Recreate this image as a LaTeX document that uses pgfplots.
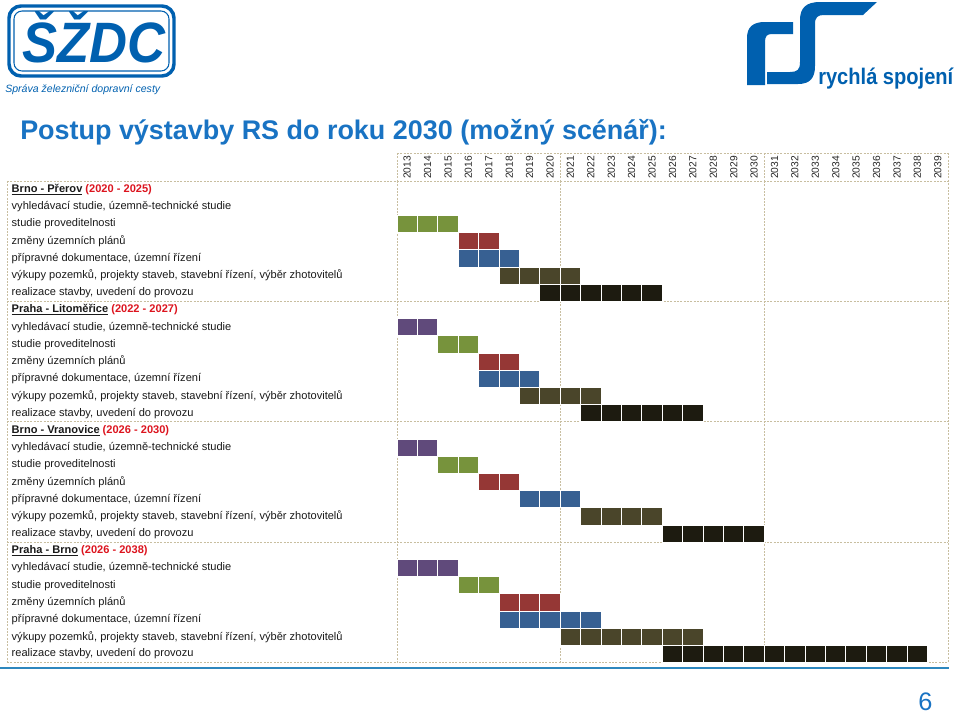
\documentclass[border=0pt]{standalone}
\usepackage{pgfplots}
\pgfplotsset{compat=1.18}
\usepackage{fontspec}
\setmainfont{Liberation Sans}
\definecolor{cpurple}{RGB}{96,74,123}
\definecolor{cgreen}{RGB}{119,147,60}
\definecolor{cred}{RGB}{149,55,53}
\definecolor{cblue}{RGB}{55,96,146}
\definecolor{colive}{RGB}{74,69,42}
\definecolor{cblack}{RGB}{29,27,16}
\definecolor{gridtan}{RGB}{200,190,160}
\definecolor{titleblue}{RGB}{25,115,195}
\definecolor{logoblue}{RGB}{0,96,175}
\definecolor{hdrred}{RGB}{220,20,30}
\definecolor{linecol}{RGB}{45,135,190}
\pgfplotsset{cell/.style={only marks, mark=square*, mark size=6.45pt,
  mark options={draw=white, fill=#1, line width=0.75pt, xscale=1.186}}}
\tikzset{gridline/.style={draw=gridtan, dash pattern=on 1.5pt off 1pt, line width=0.6pt}}
\newcommand{\hdr}[2]{\textbf{\underline{#1}} \textcolor{hdrred}{\textbf{(#2)}}}
\begin{document}
\begin{tikzpicture}
\path[use as bounding box] (0,0) rectangle (720pt,-536.25pt);
\begin{axis}[
  at={(297.75pt,-135.75pt)}, anchor=north west,
  scale only axis, width=413.25pt, height=361.2pt,
  xmin=2012.5, xmax=2039.5, ymin=-0.5, ymax=27.5, y dir=reverse,
  axis line style={gridline},
  major tick length=0pt,
  xtick={2013,2014,2015,2016,2017,2018,2019,2020,2021,2022,2023,2024,2025,2026,2027,2028,2029,2030,2031,2032,2033,2034,2035,2036,2037,2038,2039},
  xticklabels={2013,2014,2015,2016,2017,2018,2019,2020,2021,2022,2023,2024,2025,2026,2027,2028,2029,2030,2031,2032,2033,2034,2035,2036,2037,2038,2039},
  xticklabel pos=upper,
  xticklabel style={rotate=90, anchor=west, inner sep=1.5pt, font=\fontsize{7.7}{9}\selectfont, text=black!85},
  ytick={0,...,27},
  yticklabels={
    {\hdr{Brno - Přerov}{2020 - 2025}},
    {vyhledávací studie, územně-technické studie},
    {studie proveditelnosti},
    {změny územních plánů},
    {přípravné dokumentace, územní řízení},
    {výkupy pozemků, projekty staveb, stavební řízení, výběr zhotovitelů},
    {realizace stavby, uvedení do provozu},
    {\hdr{Praha - Litoměřice}{2022 - 2027}},
    {vyhledávací studie, územně-technické studie},
    {studie proveditelnosti},
    {změny územních plánů},
    {přípravné dokumentace, územní řízení},
    {výkupy pozemků, projekty staveb, stavební řízení, výběr zhotovitelů},
    {realizace stavby, uvedení do provozu},
    {\hdr{Brno - Vranovice}{2026 - 2030}},
    {vyhledávací studie, územně-technické studie},
    {studie proveditelnosti},
    {změny územních plánů},
    {přípravné dokumentace, územní řízení},
    {výkupy pozemků, projekty staveb, stavební řízení, výběr zhotovitelů},
    {realizace stavby, uvedení do provozu},
    {\hdr{Praha - Brno}{2026 - 2038}},
    {vyhledávací studie, územně-technické studie},
    {studie proveditelnosti},
    {změny územních plánů},
    {přípravné dokumentace, územní řízení},
    {výkupy pozemků, projekty staveb, stavební řízení, výběr zhotovitelů},
    {realizace stavby, uvedení do provozu}},
  yticklabel style={anchor=west, xshift=-292.5pt, font=\fontsize{8.3}{9}\selectfont, text=black!90},
  extra x ticks={2020.5,2030.5}, extra x tick labels={},
  extra x tick style={grid=major, major grid style={gridline}},
  extra y ticks={6.5,13.5,20.5}, extra y tick labels={},
  extra y tick style={grid=major, major grid style={gridline}},
  clip=false,
]
% vyhledavaci studie
\addplot[cell=cpurple] table {
x y
2013 8
2014 8
2013 15
2014 15
2013 22
2014 22
2015 22
};
% studie proveditelnosti
\addplot[cell=cgreen] table {
x y
2013 2
2014 2
2015 2
2015 9
2016 9
2015 16
2016 16
2016 23
2017 23
};
% zmeny uzemnich planu
\addplot[cell=cred] table {
x y
2016 3
2017 3
2017 10
2018 10
2017 17
2018 17
2018 24
2019 24
2020 24
};
% pripravne dokumentace
\addplot[cell=cblue] table {
x y
2016 4
2017 4
2018 4
2017 11
2018 11
2019 11
2019 18
2020 18
2021 18
2018 25
2019 25
2020 25
2021 25
2022 25
};
% vykupy pozemku
\addplot[cell=colive] table {
x y
2018 5
2019 5
2020 5
2021 5
2019 12
2020 12
2021 12
2022 12
2022 19
2023 19
2024 19
2025 19
2021 26
2022 26
2023 26
2024 26
2025 26
2026 26
2027 26
};
% realizace
\addplot[cell=cblack] table {
x y
2020 6
2021 6
2022 6
2023 6
2024 6
2025 6
2022 13
2023 13
2024 13
2025 13
2026 13
2027 13
2026 20
2027 20
2028 20
2029 20
2030 20
2026 27
2027 27
2028 27
2029 27
2030 27
2031 27
2032 27
2033 27
2034 27
2035 27
2036 27
2037 27
2038 27
};
\end{axis}
\begin{scope}[x=0.75pt, y=-0.75pt]
% header box and left table frame
\draw[gridline] (397,153) -- (948,153);
\foreach \xx in {397,560.3,764.3,948} \draw[gridline] (\xx,153) -- (\xx,181);
\draw[gridline] (7,181) -- (397,181);
\draw[gridline] (7,181) -- (7,662.6);
\draw[gridline] (7,662.6) -- (397,662.6);
\foreach \yy in {301.4,421.8,542.2} \draw[gridline] (7,\yy) -- (397,\yy);
% title
\node[anchor=base west, inner sep=0, text=titleblue, font=\fontsize{20.2}{24}\selectfont\bfseries] at (20,139) {Postup výstavby RS do roku 2030 (možný scénář):};
% bottom line and page number
\draw[linecol, line width=1.5pt] (0,668) -- (949,668);
\node[anchor=base west, inner sep=0, text=titleblue, font=\fontsize{19}{22}\selectfont] at (918,710) {6};
% SZDC logo
\draw[logoblue, line width=2.6pt, rounded corners=9pt] (9,6) rectangle (174,76);
\draw[logoblue, line width=0.8pt, rounded corners=6pt] (14,11) rectangle (169,71);
\node[anchor=south west, inner sep=0, text=logoblue] at (22,63) {\resizebox{107.25pt}{38.25pt}{\bfseries\itshape ŠŽDC}};
\node[anchor=base west, inner sep=0, text=logoblue] at (5,92) {\resizebox{116.25pt}{!}{\itshape Správa železniční dopravní cesty}};
% rs logo
\fill[logoblue] (747,85) -- (747,38) .. controls (747,27) and (753,22) .. (765,22) -- (793,22) -- (793,34) -- (772,34) .. controls (767,34) and (765,36) .. (765,42) -- (765,85) -- cycle;
\fill[logoblue] (877,2) -- (820,2) .. controls (806,2) and (800,8) .. (800,20) -- (800,62) .. controls (800,70) and (797,72) .. (790,72) -- (767,72) -- (767,84) -- (798,84) .. controls (810,84) and (815,78) .. (815,66) -- (815,24) .. controls (815,17) and (818,15) .. (824,15) -- (863,15) -- cycle;
\node[anchor=base west, inner sep=0, text=logoblue] at (818,84) {\resizebox{101.25pt}{12.4pt}{\bfseries rychlá spojení}};
\end{scope}
\end{tikzpicture}
\end{document}
